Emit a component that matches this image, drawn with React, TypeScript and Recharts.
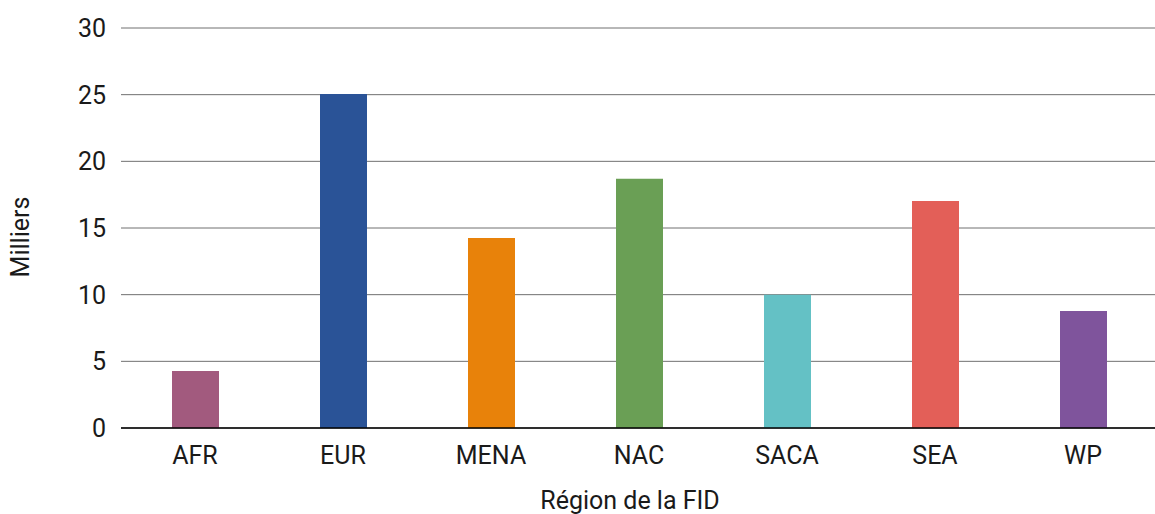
import { Bar, BarChart, CartesianGrid, Cell, XAxis, YAxis, Label } from 'recharts'

const regions = ['AFR', 'EUR', 'MENA', 'NAC', 'SACA', 'SEA', 'WP']
const values = [4.27, 25.05, 14.25, 18.7, 10.0, 17.03, 8.78]
const colors = ['#a25a7e', '#2a5397', '#e8820a', '#6a9f55', '#64c1c5', '#e35f58', '#7f549c']
const yTicks = [0, 5, 10, 15, 20, 25, 30]

const data = regions.map((name, i) => ({ name, value: values[i] }))

const font = 'Roboto, sans-serif'
const textColor = '#1a1a1a'

export default function App() {
  return (
    <div style={{ position: 'absolute', left: 0, top: 0, width: 1155, height: 514, overflow: 'hidden', background: '#fff' }}>
      <BarChart
        width={1157}
        height={514}
        data={data}
        margin={{ top: 28, right: 0, left: 0, bottom: 0 }}
        style={{ fontFamily: font }}
      >
        <CartesianGrid horizontal vertical={false} stroke='#707070' strokeWidth={1} />
        <XAxis
          dataKey='name'
          height={86}
          tickLine={false}
          axisLine={{ stroke: '#000', strokeWidth: 1.5 }}
          tick={{ fill: textColor, fontSize: 25, fontFamily: font }}
          tickMargin={12}
        >
          <Label
            content={() => (
              <text x={630} y={500} textAnchor='middle' dominantBaseline='central' fill={textColor} fontSize={25} fontFamily={font}>
                Région de la FID
              </text>
            )}
          />
        </XAxis>
        <YAxis
          width={121}
          domain={[0, 30]}
          ticks={yTicks}
          tickLine={false}
          axisLine={false}
          tick={{ fill: textColor, fontSize: 25, fontFamily: font }}
          tickMargin={9}
        >
          <Label
            content={() => (
              <text x={20} y={237} transform='rotate(-90 20 237)' textAnchor='middle' dominantBaseline='central' fill={textColor} fontSize={25} fontFamily={font}>
                Milliers
              </text>
            )}
          />
        </YAxis>
        <Bar dataKey='value' barSize={47} isAnimationActive={false}>
          {data.map((d, i) => (
            <Cell key={d.name} fill={colors[i]} />
          ))}
        </Bar>
      </BarChart>
    </div>
  )
}
